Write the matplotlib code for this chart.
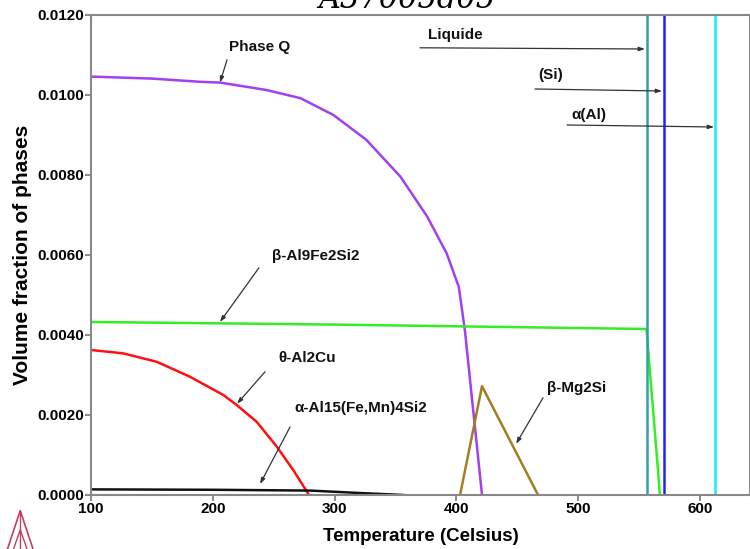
import matplotlib
matplotlib.use("Agg")
import matplotlib.pyplot as plt

plt.rcParams['font.family'] = ['Liberation Sans', 'DejaVu Sans']
plt.rcParams['font.weight'] = 'bold'

# volume fraction curves
phaseq_t = [100, 150, 189.5, 206, 244, 272, 299, 326, 354, 376, 392, 402, 407, 421]
phaseq_v = [0.01046, 0.01041, 0.01033, 0.01031, 0.010125, 0.00992, 0.0095, 0.00888, 0.00796,
            0.00696, 0.00604, 0.0052, 0.0041, 0.0]

al9fe_t = [100, 300, 556, 565, 567]
al9fe_v = [0.004325, 0.00426, 0.00415, 0.0008, 0.0]

al2cu_t = [100, 126.5, 154, 181, 208.6, 219.6, 236, 252.5, 266, 279]
al2cu_v = [0.003625, 0.00354, 0.00333, 0.00296, 0.0025, 0.00225, 0.00183, 0.00121, 0.000625, 0.0]

al15_t = [100, 200, 280, 320, 356]
al15_v = [0.00014, 0.00013, 0.00011, 0.00005, 0.0]

mg2si_t = [403, 421, 467]
mg2si_v = [0.0, 0.00272, 0.0]

# phases that jump straight up (vertical lines)
liquide_t = 556.5
si_t = 570
alpha_al_t = 612

fig = plt.figure(figsize=(7.5, 5.49), dpi=100)
ax = fig.add_axes([0.1213, 0.0984, 0.8787, 0.8743])

lw = 1.8
ax.plot(phaseq_t, phaseq_v, color='#a040f0', lw=lw)
ax.plot(al9fe_t, al9fe_v, color='#33ee22', lw=lw)
ax.plot(al2cu_t, al2cu_v, color='#ff1010', lw=lw)
ax.plot(al15_t, al15_v, color='#111111', lw=lw)
ax.plot(mg2si_t, mg2si_v, color='#a08020', lw=lw)
ax.plot([liquide_t, liquide_t], [0, 0.013], color='#30a0a8', lw=lw)
ax.plot([si_t, si_t], [0, 0.013], color='#2020ff', lw=lw)
ax.plot([alpha_al_t, alpha_al_t], [0, 0.013], color='#10f0f8', lw=lw)

ax.set_xlim(100, 641)
ax.set_ylim(0, 0.012)
ax.set_xticks([100, 200, 300, 400, 500, 600])
ax.set_yticks([0, 0.002, 0.004, 0.006, 0.008, 0.010, 0.012])
ax.set_yticklabels(['0.0000', '0.0020', '0.0040', '0.0060', '0.0080', '0.0100', '0.0120'])
ax.tick_params(labelsize=11, length=4, color='#777777', width=1.2, pad=1)
for s in ax.spines.values():
    s.set_color('#888888')
    s.set_linewidth(1.5)
ax.set_xlabel('Temperature (Celsius)', fontsize=13.5, fontweight='bold', labelpad=9)
ax.set_ylabel('Volume fraction of phases', fontsize=15, fontweight='bold', labelpad=4)

# labels with leader lines: (text, text pos, line start, line end)
labels = [
    ('Phase Q', (238.7, 0.0112), (211.7, 0.01088), (205.9, 0.01031)),
    ('Liquide', (398.9, 0.0115), (370.1, 0.01118), (554.8, 0.01115)),
    ('(Si)', (477.7, 0.0105), (464.5, 0.01015), (568.8, 0.0101)),
    ('\u03b1(Al)', (508.9, 0.0095), (490.8, 0.00925), (611.5, 0.0092)),
    ('\u03b2-Al9Fe2Si2', (284.7, 0.00598), (237.9, 0.00568), (205.9, 0.004325)),
    ('\u03b8-Al2Cu', (277.3, 0.00343), (242.9, 0.00308), (219.9, 0.00228)),
    ('\u03b1-Al15(Fe,Mn)4Si2', (321.7, 0.00218), (263.4, 0.0017), (238.8, 0.000275)),
    ('\u03b2-Mg2Si', (499.0, 0.00268), (471.1, 0.00243), (449.0, 0.00128)),
]
for txt, tpos, p0, p1 in labels:
    ax.text(tpos[0], tpos[1], txt, ha='center', va='center', fontsize=11, fontweight='bold', color='#111111')
    ax.annotate('', xy=p1, xytext=p0,
                arrowprops=dict(arrowstyle='-|>,head_length=0.35,head_width=0.12',
                                color='#333333', lw=0.9, shrinkA=0, shrinkB=0))

# title, cut off by the top edge
fig.text(0.543, 0.9854, 'A37005d05', ha='center', va='baseline', fontsize=22,
         family='DejaVu Serif', style='italic', fontweight='normal')

# small logo mark bottom left
fig.add_artist(plt.Line2D([0.01, 0.027, 0.044], [0.0, 0.07, 0.0], color='#c04060', lw=1.2))
fig.add_artist(plt.Line2D([0.027, 0.027], [0.0, 0.07], color='#c04060', lw=1.0))
fig.add_artist(plt.Line2D([0.018, 0.027, 0.036], [0.0, 0.035, 0.0], color='#c04060', lw=1.0))

fig.savefig('out.png', dpi=100)
